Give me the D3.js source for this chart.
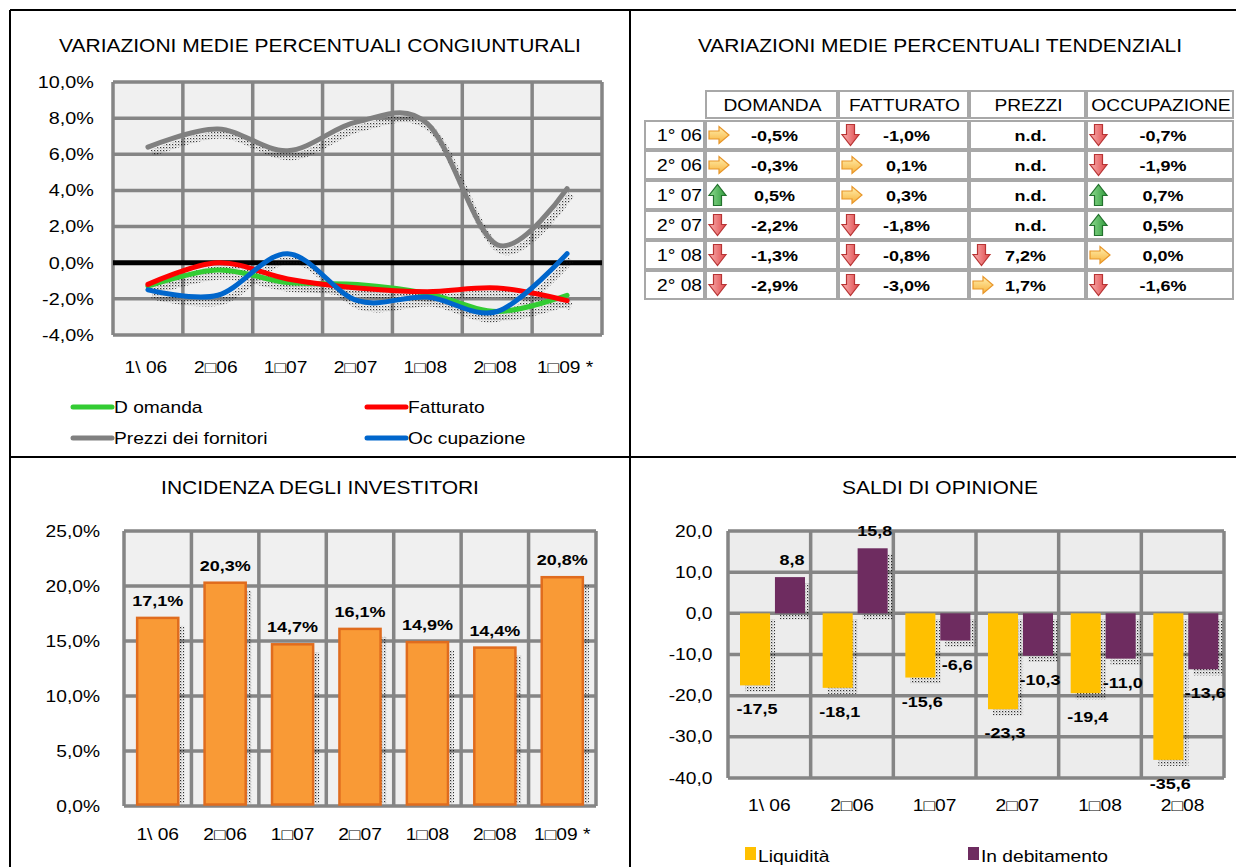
<!DOCTYPE html>
<html><head><meta charset="utf-8">
<script src="https://cdn.jsdelivr.net/npm/d3@7"></script>
<style>
body{margin:0;background:#fff}
svg{display:block}
text{font-family:"Liberation Sans",Arial,"DejaVu Sans",sans-serif;}
</style>
</head><body>
<svg id="c" width="1236" height="867"></svg>
<script>
// ---------------- DATA ----------------
const periods = ["1\\ 06", "2\u25A106", "1\u25A107", "2\u25A107", "1\u25A108", "2\u25A108", "1\u25A109 *"];
const lineSeriesNames = ["D omanda", "Fatturato", "Prezzi dei fornitori", "Oc cupazione"];
const domanda     = [-1.3, -0.4, -1.1, -1.2, -1.7, -2.7, -1.8];
const fatturato   = [-1.2,  0.0, -0.9, -1.4, -1.6, -1.4, -2.1];
const prezzi      = [ 6.4,  7.4,  6.2,  7.8,  7.7,  1.0,  4.1];
const occupazione = [-1.5, -1.8,  0.5, -2.1, -1.9, -2.7,  0.5];
const lineTicks = [-4, -2, 0, 2, 4, 6, 8, 10];

const tableRows = ["1° 06", "2° 06", "1° 07", "2° 07", "1° 08", "2° 08"];
const tableCols = ["DOMANDA", "FATTURATO", "PREZZI", "OCCUPAZIONE"];
const tabDomanda     = [-0.5, -0.3, 0.5, -2.2, -1.3, -2.9];
const tabFatturato   = [-1.0, 0.1, 0.3, -1.8, -0.8, -3.0];
const tabPrezzi      = [null, null, null, null, 7.2, 1.7];
const tabOccupazione = [-0.7, -1.9, 0.7, 0.5, 0.0, -1.6];
const trendDomanda     = ["right", "right", "up", "down", "down", "down"];
const trendFatturato   = ["down", "right", "right", "down", "down", "down"];
const trendPrezzi      = [null, null, null, null, "down", "right"];
const trendOccupazione = ["down", "down", "up", "up", "right", "down"];

const investitori = [17.1, 20.3, 14.7, 16.1, 14.9, 14.4, 20.8];
const invTicks = [0, 5, 10, 15, 20, 25];

const saldiPeriods = ["1\\ 06", "2\u25A106", "1\u25A107", "2\u25A107", "1\u25A108", "2\u25A108"];
const saldiNames = ["Liquidità", "In debitamento"];
const liquidita     = [-17.5, -18.1, -15.6, -23.3, -19.4, -35.6];
const indebitamento = [8.8, 15.8, -6.6, -10.3, -11.0, -13.6];
const saldiTicks = [-40, -30, -20, -10, 0, 10, 20];

// ---------------- HELPERS ----------------
const SX = 1.2;
const svg = d3.select("#c");
const comma = v => d3.format(".1f")(v).replace(".", ",").replace("−", "-");
const pct = v => comma(v) + "%";

function txt(g, x, y, s, o = {}) {
  return g.append("text")
    .attr("transform", `translate(${x},${y}) scale(${o.sx || SX},1)`)
    .attr("font-size", o.size || 16)
    .attr("font-weight", o.weight || "normal")
    .attr("text-anchor", o.anchor || "start")
    .attr("fill", o.fill || "#000")
    .text(s);
}

const defs = svg.append("defs");
const pat = defs.append("pattern").attr("id", "dots").attr("width", 3).attr("height", 3)
  .attr("patternUnits", "userSpaceOnUse");
pat.append("rect").attr("width", 1.2).attr("height", 1.2).attr("fill", "#000");
pat.append("rect").attr("x", 1.5).attr("y", 1.5).attr("width", 0.8).attr("height", 0.8).attr("fill", "#444");

function grad(id, c1, c2, vertical) {
  const g = defs.append("linearGradient").attr("id", id)
    .attr("x1", 0).attr("y1", 0).attr("x2", vertical ? 0 : 1).attr("y2", vertical ? 1 : 0);
  g.append("stop").attr("offset", "0%").attr("stop-color", c1);
  g.append("stop").attr("offset", "100%").attr("stop-color", c2);
}
grad("gRight", "#fff0b0", "#f7b23b", true);
grad("gDown", "#f8b0b0", "#e0484a", false);
grad("gUp", "#90dc90", "#2f9a3c", false);

// ---------------- FRAME ----------------
const frame = svg.append("g").attr("stroke", "#000").attr("stroke-width", 2);
frame.append("line").attr("x1", 10).attr("y1", 10).attr("x2", 1236).attr("y2", 10);
frame.append("line").attr("x1", 10).attr("y1", 10).attr("x2", 10).attr("y2", 867);
frame.append("line").attr("x1", 630).attr("y1", 10).attr("x2", 630).attr("y2", 867);
frame.append("line").attr("x1", 10).attr("y1", 457).attr("x2", 1236).attr("y2", 457);

// ---------------- CHART 1: LINES ----------------
{
  const g = svg.append("g");
  txt(g, 320, 52, "VARIAZIONI MEDIE PERCENTUALI CONGIUNTURALI", {size: 17.5, anchor: "middle"});
  const L = 113, R = 602, T = 82, B = 335;
  const xb = d3.scaleBand().domain(periods).range([L, R]);
  const xc = p => xb(p) + xb.bandwidth() / 2;
  const y = d3.scaleLinear().domain([-4, 10]).range([B, T]);

  g.append("rect").attr("x", L).attr("y", T).attr("width", R - L).attr("height", B - T).attr("fill", "#f0f0f0");
  const grid = g.append("g").attr("stroke", "#858585").attr("stroke-width", 3.5);
  grid.selectAll(".h").data(lineTicks).join("line")
    .attr("x1", L).attr("x2", R).attr("y1", d => y(d)).attr("y2", d => y(d));
  grid.selectAll(".v").data(periods.concat([null])).join("line")
    .attr("x1", (d, i) => i < periods.length ? xb(d) : R).attr("x2", (d, i) => i < periods.length ? xb(d) : R)
    .attr("y1", T).attr("y2", B);
  g.append("line").attr("x1", L).attr("x2", R).attr("y1", y(0)).attr("y2", y(0))
    .attr("stroke", "#000").attr("stroke-width", 5);

  const ya = d3.axisLeft(y).tickValues(lineTicks).tickFormat(pct).tickSize(0).tickPadding(16);
  const yg = g.append("g").attr("transform", `translate(${L},0)`).call(ya);
  yg.select(".domain").remove();
  yg.selectAll("text").attr("font-size", 16.5).attr("fill", "#000").attr("font-family", null)
    .attr("transform", `scale(${SX},1)`);

  const xa = d3.axisBottom(xb).tickSize(0).tickPadding(27);
  const xg = g.append("g").attr("transform", `translate(0,${B})`).call(xa);
  xg.select(".domain").remove();
  xg.selectAll("text").attr("font-size", 16).attr("fill", "#000").attr("font-family", null)
    .attr("transform", `scale(${SX},1)`).attr("x", function(){ return 0; });
  xg.selectAll(".tick").each(function(d){
    const t = d3.select(this);
    t.attr("transform", `translate(${xc(d) - 2},0)`);
  });

  const series = [
    {name: lineSeriesNames[0], values: domanda, color: "#33cc33"},
    {name: lineSeriesNames[1], values: fatturato, color: "#ff0000"},
    {name: lineSeriesNames[2], values: prezzi, color: "#808080"},
    {name: lineSeriesNames[3], values: occupazione, color: "#0066cc"},
  ];
  const line = d3.line().x((d, i) => xc(periods[i])).y(d => y(d)).curve(d3.curveCardinal.tension(0));
  const sh = g.append("g").attr("transform", "translate(4,6)").attr("opacity", 0.75);
  series.forEach(s => {
    sh.append("path").attr("d", line(s.values)).attr("fill", "none")
      .attr("stroke", "url(#dots)").attr("stroke-width", 7);
  });
  series.forEach(s => {
    g.append("path").attr("d", line(s.values)).attr("fill", "none")
      .attr("stroke", s.color).attr("stroke-width", 5).attr("stroke-linecap", "round");
  });

  // legend
  const lx = [73, 367], ly = [407, 438];
  series.forEach((s, i) => {
    const cx = lx[i % 2], cy = ly[Math.floor(i / 2)];
    g.append("line").attr("x1", cx).attr("x2", cx + 39).attr("y1", cy).attr("y2", cy)
      .attr("stroke", s.color).attr("stroke-width", 5).attr("stroke-linecap", "round");
    txt(g, cx + 41, cy + 6, s.name, {size: 16});
  });
}

// ---------------- TABLE ----------------
{
  const g = svg.append("g");
  txt(g, 940, 52, "VARIAZIONI MEDIE PERCENTUALI TENDENZIALI", {size: 17.5, anchor: "middle"});
  const colX = [[706, 837], [839, 968], [970, 1085], [1087, 1233]];
  const labX = [645, 704];
  const headT = 91, headH = 27;
  const rowT = i => 121 + i * 30, rowH = 28;
  const cellStyle = r => r.attr("fill", "#fff").attr("stroke", "#a8a8a8").attr("stroke-width", 2);

  tableCols.forEach((c, j) => {
    cellStyle(g.append("rect").attr("x", colX[j][0]).attr("y", headT)
      .attr("width", colX[j][1] - colX[j][0]).attr("height", headH));
    txt(g, (colX[j][0] + colX[j][1]) / 2 + 1, headT + 20, c, {size: 16, anchor: "middle"});
  });
  const vals = [tabDomanda, tabFatturato, tabPrezzi, tabOccupazione];
  const trends = [trendDomanda, trendFatturato, trendPrezzi, trendOccupazione];
  const arrowPath = {
    right: "M0,4.5 H10 V0 L20,8.5 L10,17 V12.5 H0 Z",
    down: "M4.5,0 H12.5 V10 H17 L8.5,21 L0,10 H4.5 Z",
    up: "M4.5,21 H12.5 V11 H17 L8.5,0 L0,11 H4.5 Z"
  };
  const arrowStyle = {
    right: ["url(#gRight)", "#e8962a"],
    down: ["url(#gDown)", "#b83434"],
    up: ["url(#gUp)", "#23722e"]
  };
  tableRows.forEach((r, i) => {
    const t = rowT(i);
    cellStyle(g.append("rect").attr("x", labX[0]).attr("y", t)
      .attr("width", labX[1] - labX[0]).attr("height", rowH));
    txt(g, labX[1] - 2, t + 20, r, {size: 16, anchor: "end"});
    vals.forEach((col, j) => {
      cellStyle(g.append("rect").attr("x", colX[j][0]).attr("y", t)
        .attr("width", colX[j][1] - colX[j][0]).attr("height", rowH));
      const v = col[i], tr = trends[j][i];
      const cx = (colX[j][0] + colX[j][1]) / 2 + 3;
      if (tr) {
        const ah = tr === "right" ? 17 : 21;
        g.append("path").attr("d", arrowPath[tr])
          .attr("transform", `translate(${colX[j][0] + 3},${t + (rowH - ah) / 2})`)
          .attr("fill", arrowStyle[tr][0]).attr("stroke", arrowStyle[tr][1]).attr("stroke-width", 1.2);
      }
      txt(g, j === 2 && v !== null ? cx - 5 : cx, t + 20, v === null ? "n.d." : pct(v),
        {size: 15, weight: "bold", anchor: "middle"});
    });
  });
}

// ---------------- CHART 3: BARS ----------------
{
  const g = svg.append("g");
  txt(g, 320, 494, "INCIDENZA DEGLI INVESTITORI", {size: 17.5, anchor: "middle"});
  const L = 124, R = 596, T = 531, B = 806;
  const xb = d3.scaleBand().domain(periods).range([L, R]);
  const y = d3.scaleLinear().domain([0, 25]).range([B, T]);
  g.append("rect").attr("x", L).attr("y", T).attr("width", R - L).attr("height", B - T).attr("fill", "#f0f0f0");
  const grid = g.append("g").attr("stroke", "#858585").attr("stroke-width", 3.5);
  grid.selectAll(".h").data(invTicks).join("line")
    .attr("x1", L).attr("x2", R).attr("y1", d => y(d)).attr("y2", d => y(d));
  grid.selectAll(".v").data(periods.concat([null])).join("line")
    .attr("x1", (d, i) => i < periods.length ? xb(d) : R).attr("x2", (d, i) => i < periods.length ? xb(d) : R)
    .attr("y1", T).attr("y2", B);

  const bw = xb.bandwidth() * 0.61;
  const bx = p => xb(p) + (xb.bandwidth() - bw) / 2;
  g.append("defs").append("clipPath").attr("id", "clip3").append("rect")
    .attr("x", L).attr("y", T).attr("width", R - L).attr("height", B - T - 2);
  g.append("g").attr("clip-path", "url(#clip3)").attr("opacity", 0.8)
    .selectAll("rect").data(investitori).join("rect")
    .attr("x", (d, i) => bx(periods[i]) + 6).attr("y", d => y(d) + 8)
    .attr("width", bw).attr("height", d => B - y(d)).attr("fill", "url(#dots)");
  g.append("g").selectAll("rect").data(investitori).join("rect")
    .attr("x", (d, i) => bx(periods[i])).attr("y", d => y(d))
    .attr("width", bw).attr("height", d => B - y(d) - 1.5)
    .attr("fill", "#f99a36").attr("stroke", "#e06c1e").attr("stroke-width", 2.5);
  investitori.forEach((d, i) => {
    txt(g, bx(periods[i]) + bw / 2, y(d) - 12, pct(d), {size: 15, weight: "bold", anchor: "middle"});
  });

  const ya = d3.axisLeft(y).tickValues(invTicks).tickFormat(pct).tickSize(0).tickPadding(20);
  const yg = g.append("g").attr("transform", `translate(${L},0)`).call(ya);
  yg.select(".domain").remove();
  yg.selectAll("text").attr("font-size", 16).attr("fill", "#000").attr("font-family", null)
    .attr("transform", `scale(${SX},1)`);
  const xa = d3.axisBottom(xb).tickSize(0).tickPadding(23);
  const xg = g.append("g").attr("transform", `translate(0,${B})`).call(xa);
  xg.select(".domain").remove();
  xg.selectAll("text").attr("font-size", 16).attr("fill", "#000").attr("font-family", null)
    .attr("transform", `scale(${SX},1)`);
}

// ---------------- CHART 4: GROUPED BARS ----------------
{
  const g = svg.append("g");
  txt(g, 940, 494, "SALDI DI OPINIONE", {size: 17.5, anchor: "middle"});
  const L = 728, R = 1224, T = 531, B = 778;
  const xb = d3.scaleBand().domain(saldiPeriods).range([L, R]);
  const x1 = d3.scaleBand().domain([0, 1]).range([12, 77]).paddingInner(0.14);
  const y = d3.scaleLinear().domain([-40, 20]).range([B, T]);
  g.append("rect").attr("x", L).attr("y", T).attr("width", R - L).attr("height", B - T).attr("fill", "#ececec");
  const grid = g.append("g").attr("stroke", "#858585").attr("stroke-width", 3.5);
  grid.selectAll(".h").data(saldiTicks).join("line")
    .attr("x1", L).attr("x2", R).attr("y1", d => y(d)).attr("y2", d => y(d));
  grid.selectAll(".v").data(saldiPeriods.concat([null])).join("line")
    .attr("x1", (d, i) => i < saldiPeriods.length ? xb(d) : R).attr("x2", (d, i) => i < saldiPeriods.length ? xb(d) : R)
    .attr("y1", T).attr("y2", B);

  const series = [
    {values: liquidita, color: "#ffc000"},
    {values: indebitamento, color: "#6e2c60"}
  ];
  const shadowG = g.append("g").attr("opacity", 0.8);
  const barG = g.append("g");
  series.forEach((s, k) => {
    s.values.forEach((d, i) => {
      const x0 = xb(saldiPeriods[i]) + x1(k);
      const y0 = Math.min(y(d), y(0)), h = Math.abs(y(d) - y(0));
      shadowG.append("rect").attr("x", x0 + 5).attr("y", y0 + 6).attr("width", x1.bandwidth()).attr("height", h)
        .attr("fill", "url(#dots)");
      barG.append("rect").attr("x", x0).attr("y", y0).attr("width", x1.bandwidth()).attr("height", h)
        .attr("fill", s.color);
    });
  });
  series.forEach((s, k) => {
    s.values.forEach((d, i) => {
      const cx = xb(saldiPeriods[i]) + x1(k) + x1.bandwidth() / 2 + 2;
      const yy = d >= 0 ? y(d) - 12 : y(d) + 29;
      txt(g, cx, yy, comma(d), {size: 15, weight: "bold", anchor: "middle"});
    });
  });

  const ya = d3.axisLeft(y).tickValues(saldiTicks).tickFormat(comma).tickSize(0).tickPadding(13);
  const yg = g.append("g").attr("transform", `translate(${L},0)`).call(ya);
  yg.select(".domain").remove();
  yg.selectAll("text").attr("font-size", 16).attr("fill", "#000").attr("font-family", null)
    .attr("transform", `scale(${SX},1)`);
  const xa = d3.axisBottom(xb).tickSize(0).tickPadding(22);
  const xg = g.append("g").attr("transform", `translate(0,${B})`).call(xa);
  xg.select(".domain").remove();
  xg.selectAll("text").attr("font-size", 16).attr("fill", "#000").attr("font-family", null)
    .attr("transform", `scale(${SX},1)`);

  // legend
  const lgx = [745, 968];
  series.forEach((s, k) => {
    g.append("rect").attr("x", lgx[k]).attr("y", 847).attr("width", 11).attr("height", 13).attr("fill", s.color);
    txt(g, lgx[k] + 13, 862, saldiNames[k], {size: 16});
  });
}
</script>
</body></html>
